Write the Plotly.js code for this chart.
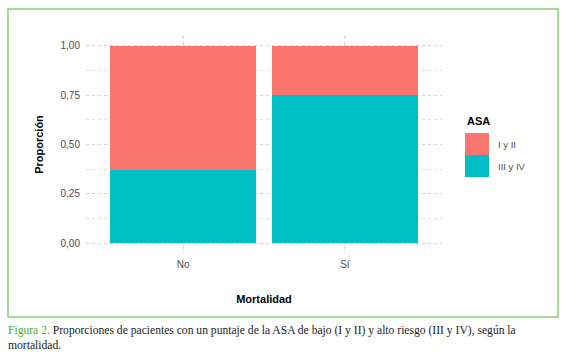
<!DOCTYPE html>
<html>
<head>
<meta charset="utf-8">
<script src="https://cdn.plot.ly/plotly-3.0.1.min.js"></script>
<style>html,body{margin:0;padding:0;background:#fff;}#chart{width:568px;height:358px;}</style>
</head>
<body>
<div id="chart"></div>
<script>
// Data
const categories = ["No", "Sí"];
const seriesNames = ["I y II", "III y IV"];
const lowRisk = [0.63, 0.25];   // I y II
const highRisk = [0.37, 0.75];  // III y IV
const seriesColors = ["#F8766D", "#00BFC4"];
const yTicks = [0, 0.25, 0.5, 0.75, 1];
const legendTitle = "ASA";
const xTitle = "Mortalidad";
const yTitle = "Proporción";
const captionLead = "Figura 2.";
const captionText = " Proporciones de pacientes con un puntaje de la ASA de bajo (I y II) y alto riesgo (III y IV), según la<br>mortalidad.";

// plot area in pixels
const W = 568, H = 358;
const PL = 86, PR = 442, PT = 36, PB = 253;
const px = v => (v - PL) / (PR - PL);
const py = v => (PB - v) / (PB - PT);

const traces = [
  {type: "bar", name: seriesNames[1], x: categories, y: highRisk,
   marker: {color: seriesColors[1], line: {width: 0}}, width: 0.9, showlegend: false, hoverinfo: "skip"},
  {type: "bar", name: seriesNames[0], x: categories, y: lowRisk,
   marker: {color: seriesColors[0], line: {width: 0}}, width: 0.9, showlegend: false, hoverinfo: "skip"}
];

const shapes = [
  {type: "rect", xref: "paper", yref: "paper", x0: px(8), x1: px(558), y0: py(317), y1: py(9),
   line: {color: "#86d070", width: 1.5}, fillcolor: "rgba(0,0,0,0)", layer: "below"}
];
const annotations = [];
// legend built from series
annotations.push({xref: "paper", yref: "paper", x: px(465), y: py(120.5), xanchor: "left", yanchor: "middle",
  text: "<b>" + legendTitle + "</b>", showarrow: false, font: {family: "Liberation Sans, Arial, sans-serif", size: 11, color: "#000"}});
seriesNames.forEach((n, i) => {
  const top = 133 + i * 22;
  shapes.push({type: "rect", xref: "paper", yref: "paper", x0: px(465), x1: px(489), y0: py(top + 22), y1: py(top),
    fillcolor: seriesColors[i], line: {width: 0}});
  annotations.push({xref: "paper", yref: "paper", x: px(496), y: py(top + 11), xanchor: "left", yanchor: "middle",
    text: n, showarrow: false, font: {family: "Liberation Sans, Arial, sans-serif", size: 9.5, color: "#4d4d4d"}});
});
// caption
annotations.push({xref: "paper", yref: "paper", x: px(6), y: py(322), xanchor: "left", yanchor: "top", align: "left",
  text: '<span style="color:#3fae2a">' + captionLead + '</span>' + captionText, showarrow: false,
  font: {family: "Liberation Serif, Times New Roman, serif", size: 11.6, color: "#222"}});

const layout = {
  width: W, height: H,
  margin: {l: PL, r: W - PR, t: PT, b: H - PB, pad: 0},
  paper_bgcolor: "#fff", plot_bgcolor: "#fff",
  separators: ",.",
  barmode: "stack",
  showlegend: false,
  xaxis: {
    type: "category", range: [-0.6, 1.6], showgrid: true, gridcolor: "#d2d2d2", griddash: "dot", gridwidth: 1,
    zeroline: false, showline: false, ticks: "", automargin: false, ticklabelstandoff: 4,
    tickfont: {family: "Liberation Sans, Arial, sans-serif", size: 10, color: "#4d4d4d"},
    title: {text: "<b>" + xTitle + "</b>", standoff: 26, font: {family: "Liberation Sans, Arial, sans-serif", size: 11, color: "#000"}}
  },
  yaxis: {
    range: [-0.05, 1.05], tickvals: yTicks, tickformat: ".2f", showgrid: true, gridcolor: "#d2d2d2", griddash: "dot", gridwidth: 1,
    minor: {dtick: 0.125, tick0: 0.125, showgrid: true, gridcolor: "#dedede", griddash: "dot", gridwidth: 1},
    zeroline: false, showline: false, ticks: "", automargin: false, ticklabelstandoff: 5,
    tickfont: {family: "Liberation Sans, Arial, sans-serif", size: 10, color: "#4d4d4d"},
    title: {text: "<b>" + yTitle + "</b>", standoff: 14, font: {family: "Liberation Sans, Arial, sans-serif", size: 11, color: "#000"}}
  },
  shapes: shapes,
  annotations: annotations
};

Plotly.newPlot("chart", traces, layout, {displayModeBar: false, staticPlot: true});
</script>
</body>
</html>
